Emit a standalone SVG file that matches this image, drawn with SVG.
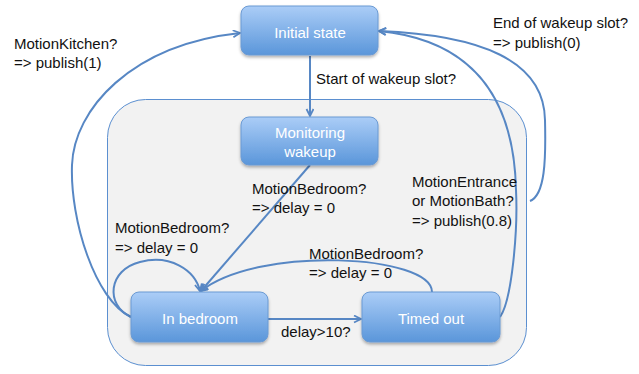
<svg xmlns="http://www.w3.org/2000/svg" width="639" height="374" viewBox="0 0 639 374">
<style>
.node rect{fill:url(#g);stroke:#6b9ad3;stroke-width:1;filter:url(#sh)}
.node text{fill:#fff;font-family:"Liberation Sans",Arial,sans-serif;font-size:15px;text-anchor:middle}
.lbl{fill:#111;font-family:"Liberation Sans",Arial,sans-serif;font-size:15px}
.edge{fill:none;stroke:#5787c4;stroke-width:2;marker-end:url(#ar)}
</style>
<defs>
<linearGradient id="g" x1="0" y1="0" x2="0" y2="1">
<stop offset="0" stop-color="#abcdf7"/>
<stop offset="1" stop-color="#5a96da"/>
</linearGradient>
<filter id="sh" x="-10%" y="-10%" width="130%" height="140%">
<feDropShadow dx="0" dy="2" stdDeviation="1.5" flood-color="#000" flood-opacity="0.3"/>
</filter>
<marker id="ar" markerWidth="10" markerHeight="10" refX="8" refY="4" orient="auto" markerUnits="userSpaceOnUse">
<path d="M1,0.5 L8,4 L1,7.5" fill="none" stroke="#5787c4" stroke-width="1.8"/>
</marker>
</defs>
<rect width="639" height="374" fill="#fff"/>
<g id="container">
<rect x="107.5" y="99.5" width="419" height="266" rx="38" fill="#f2f2f2" stroke="#5b8fd0" stroke-width="1"/>
</g>
<g id="connectors">
<path class="edge" d="M310,56 L310,116"/>
<path class="edge" d="M310,165 L201,291"/>
<path class="edge" d="M131,317 C105,305 108,270 140,262 C170,254 195,270 200,291"/>
<path class="edge" d="M432,292 C432,255 260,245 201,291"/>
<path class="edge" d="M268,319 L361,319"/>
<path class="edge" d="M131,317 C95,300 70,220 72,165 C74,110 130,45 240,33"/>
<path class="edge" d="M500,317 C512,300 518,230 516,190 C514,95 470,40 379,31"/>
<path class="edge" d="M530,201 C545,195 546,160 545,120 C544,60 480,35 379,31"/>
</g>
<g id="initial" class="node">
<rect x="241" y="6" width="137" height="49" rx="8"/>
<text x="310" y="38">Initial state</text>
</g>
<g id="monitoring" class="node">
<rect x="241" y="117" width="137" height="48" rx="8"/>
<text x="310" y="138">Monitoring</text>
<text x="310" y="157">wakeup</text>
</g>
<g id="inbedroom" class="node">
<rect x="131" y="292" width="137" height="50" rx="8"/>
<text x="200" y="324">In bedroom</text>
</g>
<g id="timedout" class="node">
<rect x="362" y="292" width="138" height="50" rx="8"/>
<text x="431" y="324">Timed out</text>
</g>
<g id="labels">
<text class="lbl" x="316" y="84">Start of wakeup slot?</text>
<text class="lbl" x="14" y="49">MotionKitchen?</text>
<text class="lbl" x="14" y="68">=&gt; publish(1)</text>
<text class="lbl" x="493" y="28">End of wakeup slot?</text>
<text class="lbl" x="493" y="48">=&gt; publish(0)</text>
<text class="lbl" x="412" y="187">MotionEntrance</text>
<text class="lbl" x="412" y="206">or MotionBath?</text>
<text class="lbl" x="412" y="226">=&gt; publish(0.8)</text>
<text class="lbl" x="252" y="194">MotionBedroom?</text>
<text class="lbl" x="252" y="213">=&gt; delay = 0</text>
<text class="lbl" x="115" y="233">MotionBedroom?</text>
<text class="lbl" x="115" y="253">=&gt; delay = 0</text>
<text class="lbl" x="309" y="259">MotionBedroom?</text>
<text class="lbl" x="309" y="278">=&gt; delay = 0</text>
<text class="lbl" x="281" y="337">delay&gt;10?</text>
</g>
</svg>
